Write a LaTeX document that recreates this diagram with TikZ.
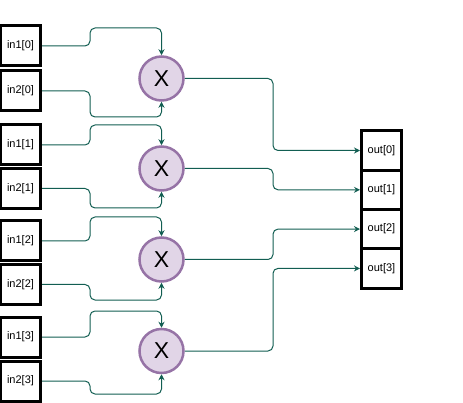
\documentclass[tikz,border=0pt]{standalone}
\usepackage{fontspec}
\setmainfont{Liberation Sans}
\usetikzlibrary{arrows.meta}
\definecolor{wirec}{RGB}{18,94,82}
\definecolor{mulfill}{HTML}{E1D5E7}
\definecolor{muldraw}{HTML}{9673A6}
\begin{document}
\begin{tikzpicture}[x=1pt,y=-1pt,
 port/.style={draw=black,line width=3pt,minimum width=40pt,minimum height=40pt,inner sep=0pt,font=\fontsize{11}{13}\selectfont,fill=white},
 outport/.style={port,minimum height=39.3pt},
 mul/.style={circle,draw=muldraw,fill=mulfill,line width=2.5pt,minimum size=44pt,inner sep=0pt,font=\fontsize{23}{26}\selectfont},
 wire/.style={draw=wirec,line width=1pt,rounded corners=5pt,-{Stealth[length=6pt,width=6pt]}}]
\useasboundingbox (0,0) rectangle (463,403);
% inputs
\node[port] (a0) at (20.5,46) {in1[0]};
\node[port] (b0) at (20.5,91) {in2[0]};
\node[port] (a1) at (20.5,145) {in1[1]};
\node[port] (b1) at (20.5,188.5) {in2[1]};
\node[port] (a2) at (20.5,241) {in1[2]};
\node[port] (b2) at (20.5,284.5) {in2[2]};
\node[port] (a3) at (20.5,337) {in1[3]};
\node[port] (b3) at (20.5,381) {in2[3]};
% multipliers
\node[mul] (m0) at (161.5,78.5) {X};
\node[mul] (m1) at (161.5,168.5) {X};
\node[mul] (m2) at (161.5,259.5) {X};
\node[mul] (m3) at (161.5,351) {X};
% outputs
\node[outport] (o0) at (381.5,150.5) {out[0]};
\node[outport] (o1) at (381.5,189.8) {out[1]};
\node[outport] (o2) at (381.5,229.1) {out[2]};
\node[outport] (o3) at (381.5,268.4) {out[3]};
% waypoints
\coordinate (u0) at (90,28);
\coordinate (d0) at (90,117);
\coordinate (u1) at (90,125);
\coordinate (d1) at (90,208);
\coordinate (u2) at (90,217);
\coordinate (d2) at (90,300);
\coordinate (u3) at (90,311);
\coordinate (d3) at (90,394);
\coordinate (vc) at (273,0);
% input wires
\foreach \i in {0,1,2,3}{
  \draw[wire] (a\i.east) -| (u\i) -| (m\i.north);
  \draw[wire] (b\i.east) -| (d\i) -| (m\i.south);
  \draw[wire] (m\i.east) -- (m\i.east -| vc) |- (o\i.west);
}
\end{tikzpicture}
\end{document}
